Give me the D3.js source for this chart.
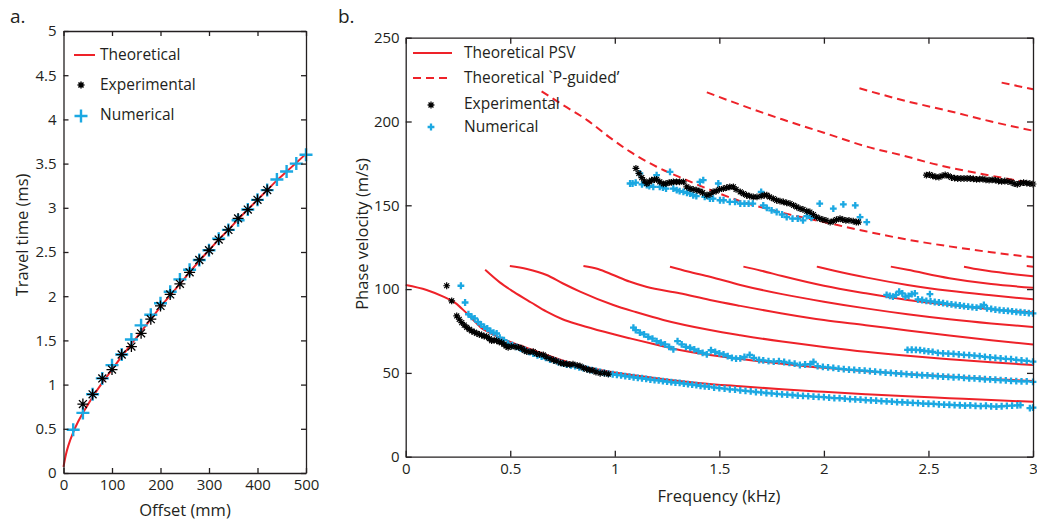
<!DOCTYPE html>
<html>
<head>
<meta charset="utf-8">
<script src="https://cdn.jsdelivr.net/npm/d3@7"></script>
<style>
body { margin: 0; background: #fff; }
svg { font-family: "Open Sans", sans-serif; }
</style>
</head>
<body>
<svg id="chart" width="1037" height="523"></svg>
<script>
// ---------- panel a: travel time vs offset ----------
const aTheory = [[0,0.07],[5,0.21],[10,0.31],[20,0.46],[30,0.58],[40,0.68],[50,0.77],[60,0.86],[80,1.02],
  [100,1.17],[120,1.32],[140,1.46],[160,1.6],[180,1.74],[200,1.88],[220,2.01],[240,2.14],[260,2.27],
  [280,2.4],[300,2.52],[320,2.64],[340,2.75],[360,2.87],[380,2.98],[400,3.09],[420,3.2],[440,3.31],
  [460,3.41],[480,3.51],[500,3.61]]
const aExp = [[40,0.78],[60,0.89],[80,1.07],[100,1.17],[120,1.34],[140,1.43],[160,1.58],[180,1.74],
  [200,1.89],[220,2.02],[240,2.14],[260,2.27],[280,2.41],[300,2.52],[320,2.64],[340,2.75],[360,2.88],
  [380,2.98],[400,3.09],[420,3.2]]
const aNum = [[20,0.49],[40,0.68],[60,0.89],[80,1.07],[100,1.22],[120,1.34],[140,1.51],[160,1.67],
  [180,1.79],[200,1.92],[220,2.05],[240,2.19],[260,2.3],[280,2.41],[300,2.52],[320,2.65],[340,2.75],
  [360,2.86],[380,2.98],[400,3.09],[420,3.2],[440,3.32],[460,3.41],[480,3.5],[500,3.6]]
const aXTicks = [0,100,200,300,400,500]
const aYTicks = [0,0.5,1,1.5,2,2.5,3,3.5,4,4.5,5]

// ---------- panel b: phase velocity vs frequency ----------
// theoretical PSV modes (kHz, m/s)
const psvModes = [
  [[0,102.5],[0.1,99.5],[0.18,95.5],[0.24,91.5],[0.28,87],[0.32,82],[0.36,77],[0.4,74],[0.45,71],[0.5,68.5],
   [0.6,64],[0.7,59.5],[0.8,55.5],[0.9,52.5],[1.0,50.2],[1.2,46.8],[1.4,44],[1.6,42],[1.8,40.2],[2.0,38.7],
   [2.2,37.3],[2.4,36],[2.6,34.9],[2.8,33.8],[3.0,32.8]],
  [[0.38,111.5],[0.45,104],[0.515,98.5],[0.6,92],[0.674,86.5],[0.75,82],[0.834,78.6],[0.95,74.5],[1.073,70.6],
   [1.2,66.8],[1.31,63.7],[1.455,60.7],[1.6,58.3],[1.8,55.5],[2.0,53],[2.2,51],[2.4,49.3],[2.6,47.8],
   [2.8,46.4],[3.0,45.2]],
  [[0.498,113.8],[0.58,112],[0.674,108.4],[0.75,103.5],[0.834,98.5],[0.993,90.5],[1.1,86.3],[1.232,81.6],
   [1.455,75.6],[1.6,72.5],[1.8,68.7],[2.0,65.5],[2.2,62.6],[2.4,60.2],[2.6,58.2],[2.8,56.3],[3.0,54.7]],
  [[0.85,113.8],[0.92,112],[0.993,108.4],[1.07,104.5],[1.15,101.4],[1.31,97.5],[1.455,93.5],[1.6,90],
   [1.8,85.5],[2.0,81.5],[2.2,78.5],[2.4,75.3],[2.6,72.3],[2.8,69.5],[3.0,67]],
  [[1.264,113.4],[1.35,110.5],[1.455,107.4],[1.6,102.5],[1.8,97],[2.0,92.5],[2.2,88.5],[2.4,85],[2.6,82],
   [2.8,79.5],[3.0,77.4]],
  [[1.615,113.4],[1.7,111],[1.8,107.8],[2.0,102],[2.2,97.5],[2.4,93.5],[2.6,90.5],[2.8,88],[3.0,86]],
  [[1.966,113.4],[2.05,111],[2.2,107],[2.4,102.5],[2.6,99],[2.8,96.3],[3.0,93.9]],
  [[2.32,113.4],[2.4,111.5],[2.6,106.5],[2.8,103],[3.0,100.8]],
  [[2.67,113.4],[2.75,111.5],[2.9,109],[3.0,107.6]],
  [[2.97,113.8],[3.0,113.4]]
]
// theoretical "P-guided" modes
const pGuided = [
  [[0.65,218],[0.75,210],[0.866,201],[0.97,191],[1.073,182],[1.2,173],[1.344,165],[1.47,158.5],[1.6,152.5],
   [1.82,145],[2.0,140],[2.2,134.5],[2.4,129.5],[2.6,125.5],[2.8,122],[3.0,119]],
  [[1.44,217.4],[1.6,210],[1.8,201.3],[2.0,193.3],[2.205,185],[2.4,179],[2.5,175.5],[2.68,170.5],
   [2.85,166.5],[3.0,163]],
  [[2.17,219.8],[2.4,212],[2.59,206.5],[2.8,200],[3.0,194.5]],
  [[2.85,223.2],[3.0,219.2]]
]
// experimental picks
const expLow = [[0.196,102],[0.22,93],[0.244,84],[0.256,82],[0.268,80],[0.28,78.5],[0.292,77.2],[0.304,76],
  [0.316,75],[0.328,74.3],[0.34,73.6],[0.352,73],[0.363,72.6],[0.375,72],[0.387,71.6],[0.4,70.5],[0.411,69.2],
  [0.423,69.5],[0.435,69.2],[0.447,68.5],[0.459,68],[0.47,67],[0.48,66],[0.49,65.3],[0.505,65.8],[0.523,65.6],
  [0.54,65.2],[0.555,64.7],[0.567,63.5],[0.579,62.7],[0.595,62.5],[0.61,62.7],[0.625,61.5],[0.64,61],
  [0.658,60.7],[0.672,59.5],[0.69,58.5],[0.706,57.7],[0.72,57],[0.74,56],[0.755,55.5],[0.77,55.3],
  [0.785,55],[0.8,55.2],[0.82,54.5],[0.834,54.1],[0.85,53],[0.865,52.2],[0.88,51.7],[0.895,51.5],
  [0.91,50.5],[0.93,49.8],[0.95,49.8],[0.969,49.3]]
const expHigh = [[1.101,172],[1.115,169],[1.129,166.5],[1.141,164.5],[1.153,163],[1.165,164],[1.176,165],
  [1.19,165.3],[1.2,165.5],[1.215,164],[1.232,162.8],[1.245,163],[1.26,163.5],[1.27,163.7],[1.28,164],
  [1.295,164],[1.31,164],[1.328,164],[1.344,161],[1.36,160],[1.375,159.5],[1.392,159],[1.407,158.5],
  [1.42,157.5],[1.44,156],[1.455,156.5],[1.47,158],[1.485,158.5],[1.5,159.5],[1.519,160],[1.535,160.5],
  [1.55,161],[1.567,161],[1.58,159.5],[1.6,158],[1.615,157],[1.63,156],[1.645,155.5],[1.662,155],[1.68,155],
  [1.7,155.5],[1.715,156],[1.727,156],[1.74,155],[1.758,154],[1.774,153],[1.79,152.5],[1.806,152],
  [1.822,151.5],[1.838,151],[1.855,150],[1.87,149],[1.886,148],[1.9,147.5],[1.918,146.5],[1.933,146],
  [1.95,144.5],[1.965,143],[1.98,142],[1.995,141.5],[2.01,141],[2.03,140],[2.045,140.5],[2.06,141.5],
  [2.077,142],[2.09,141.5],[2.105,141],[2.12,141],[2.14,140.5],[2.155,140],[2.165,140]]
const expTop = [[2.49,168],[2.505,168.3],[2.52,167.5],[2.535,167],[2.55,166.8],[2.565,167.5],[2.58,168.2],
  [2.595,167.5],[2.61,166.6],[2.625,166.2],[2.64,166],[2.655,166],[2.67,166],[2.685,166],[2.7,166],
  [2.715,165.8],[2.73,165.5],[2.745,165.6],[2.76,165.7],[2.775,165.2],[2.79,165],[2.805,165.2],[2.82,165],
  [2.835,164.5],[2.85,164.3],[2.865,164.5],[2.88,164.2],[2.895,163.8],[2.91,163],[2.925,162.5],[2.94,163.2],
  [2.955,163.5],[2.97,163.2],[2.985,163],[3.0,162.7]]
// numerical picks
const numA = [[0.264,102],[0.284,92],[0.3,85],[0.315,83.5],[0.33,82.5],[0.345,80.5],[0.36,79],[0.375,77.5],
  [0.39,76.5],[0.405,75],[0.42,74],[0.435,73.5],[0.45,71],[0.47,69.5],[0.49,67.5],[0.51,66.5],[0.53,65.5],
  [0.55,64.5],[0.57,63.5],[0.59,62.5],[0.61,61.5],[0.63,60.5],[0.65,59.8],[0.67,59],[0.69,58],[0.71,57.3],
  [0.73,56.5],[0.75,55.8],[0.77,55],[0.79,54.5],[0.81,54],[0.83,53.3],[0.85,52.8],[0.87,52.2],[0.89,51.7],
  [0.91,51.2],[0.93,50.6],[0.95,50],[0.97,49.6],[0.99,49.2],[1.01,48.8],[1.03,48.5],[1.05,48.1],[1.07,47.8],
  [1.09,47.4],[1.11,47],[1.13,46.8],[1.15,46.4],[1.17,46],[1.19,45.7],[1.21,45.5],[1.23,45.1],[1.25,44.8],
  [1.27,44.5],[1.29,44.2],[1.31,44],[1.33,43.6],[1.35,43.3],[1.37,43],[1.39,42.7],[1.41,42.3],[1.43,42],
  [1.45,41.8],[1.475,41.3],[1.5,40.9],[1.525,40.6],[1.55,40.2],[1.575,40],[1.6,39.6],[1.625,39.3],[1.65,39],
  [1.675,38.6],[1.7,38.4],[1.725,38],[1.75,37.8],[1.775,37.5],[1.8,37.2],[1.825,37],[1.85,36.8],[1.875,36.5],
  [1.9,36.3],[1.925,36.1],[1.95,35.9],[1.975,35.7],[2.0,35.5],[2.025,35.2],[2.05,35],[2.075,34.9],[2.1,34.6],
  [2.125,34.4],[2.15,34.2],[2.175,34.1],[2.2,33.8],[2.225,33.6],[2.25,33.5],[2.275,33.2],[2.3,33],[2.325,32.9],
  [2.35,32.6],[2.375,32.5],[2.4,32.3],[2.425,32.1],[2.45,32],[2.475,31.7],[2.5,31.6],[2.525,31.5],[2.55,31.2],
  [2.575,31.1],[2.6,31],[2.625,30.8],[2.65,30.7],[2.675,30.5],[2.7,30.6],[2.725,30.3],[2.75,30.2],[2.775,30.4],
  [2.8,30],[2.825,29.9],[2.85,30.1],[2.875,30.3],[2.9,30.5],[2.925,30.6],[2.94,30.8],[2.985,29],[3.0,29.3]]
const numB = [[1.089,77],[1.1,75.5],[1.12,74],[1.14,73],[1.16,71.5],[1.18,70.5],[1.2,69],[1.22,68],[1.24,67],
  [1.26,65.5],[1.28,64],[1.3,69],[1.32,67],[1.34,65.5],[1.36,65],[1.38,64],[1.4,63],[1.42,62],[1.44,61],
  [1.46,63.5],[1.48,62.5],[1.5,61.7],[1.52,61],[1.54,60],[1.56,59],[1.58,58.5],[1.6,58.7],[1.62,59.5],
  [1.645,60.7],[1.665,59],[1.69,57.7],[1.71,57.5],[1.735,57],[1.76,56.7],[1.785,57],[1.81,56.5],[1.835,56],
  [1.86,55.5],[1.885,54.7],[1.91,55],[1.935,55.2],[1.95,56.5],[1.97,54],[1.995,53.6],[2.02,53.3],[2.045,53],
  [2.07,52.6],[2.095,52.3],[2.12,52],[2.145,51.8],[2.17,51.5],[2.195,51.3],[2.22,51],[2.245,50.8],[2.27,50.5],
  [2.295,50.2],[2.32,50],[2.345,49.7],[2.37,49.5],[2.395,49.3],[2.42,49],[2.445,48.8],[2.47,48.6],[2.495,48.5],
  [2.52,48.2],[2.545,48],[2.57,47.8],[2.595,47.6],[2.62,47.4],[2.645,47.5],[2.67,47],[2.695,46.8],[2.72,46.7],
  [2.745,46.5],[2.77,46.2],[2.795,46.1],[2.82,45.9],[2.845,45.7],[2.87,45.5],[2.895,45.3],[2.92,45.1],
  [2.945,45],[2.97,44.9],[3.0,44.7]]
const numC = [[2.4,63.7],[2.42,63.8],[2.44,63.7],[2.46,63.6],[2.48,63.2],[2.5,62.8],[2.52,62.5],[2.545,62],
  [2.57,61.7],[2.595,61.5],[2.62,61.3],[2.645,61],[2.67,60.8],[2.695,60.6],[2.72,60.3],[2.745,60],[2.77,59.6],
  [2.795,59.3],[2.82,59],[2.845,58.7],[2.87,58.4],[2.895,58.2],[2.92,57.8],[2.945,57.5],[2.97,57.2],[3.0,56.7]]
const numD = [[2.3,96.5],[2.315,96],[2.33,95.5],[2.345,96.5],[2.36,98.5],[2.375,97.5],[2.39,95.5],[2.405,96],
  [2.42,97],[2.435,97.5],[2.45,93.8],[2.47,93.5],[2.49,93],[2.507,97],[2.51,92.7],[2.53,92.3],[2.55,92],
  [2.57,91.6],[2.59,91.2],[2.61,90.9],[2.63,90.5],[2.65,90.2],[2.67,89.8],[2.69,89.5],[2.71,89.3],[2.73,89],
  [2.75,89.5],[2.765,90.5],[2.78,88.5],[2.8,88.2],[2.82,87.8],[2.84,87.5],[2.86,87.2],[2.88,87],[2.9,86.7],
  [2.92,86.4],[2.94,86.2],[2.96,86],[2.98,85.7],[3.0,85.5]]
const numE = [[1.073,163],[1.085,163],[1.1,163.5],[1.12,169],[1.13,162.5],[1.153,162],[1.165,161.5],[1.184,161],
  [1.2,168],[1.215,161],[1.23,160.5],[1.245,160],[1.264,170],[1.28,160],[1.296,159],[1.31,158.5],[1.328,158],
  [1.345,157.5],[1.36,157],[1.375,156],[1.39,155.5],[1.407,164],[1.423,165],[1.43,155],[1.455,154],[1.47,154],
  [1.495,163],[1.503,153],[1.52,153],[1.55,152],[1.575,152],[1.6,151],[1.62,151],[1.64,151],[1.66,151],
  [1.7,158],[1.71,150],[1.727,148.5],[1.75,147],[1.774,146],[1.8,144.5],[1.822,143],[1.85,142],[1.875,142],
  [1.9,141],[1.918,143.5],[1.94,142.5],[1.98,151],[2.045,148],[2.093,150.5],[2.15,150],[2.173,143],[2.205,140]]
const bXTicks = [0,0.5,1,1.5,2,2.5,3]
const bYTicks = [0,50,100,150,200,250]

// ---------- drawing ----------
const svg = d3.select("#chart")
const red = "#ee2229", blue = "#1ba8e2", ink = "#231f20"
const fmt = d3.format("~g")

function starPath(r) {
  let d = r * 0.72
  return `M${-r},0H${r}M0,${-r}V${r}M${-d},${-d}L${d},${d}M${-d},${d}L${d},${-d}`
}
function plusPath(r) {
  return `M${-r},0H${r}M0,${-r}V${r}`
}

function drawFrame(g, x, y, xTicks, yTicks, tick, padX, padY) {
  let x0 = x.range()[0], x1 = x.range()[1], y0 = y.range()[0], y1 = y.range()[1]
  g.append("g").attr("transform", "translate(0," + y0 + ")")
    .call(d3.axisBottom(x).tickValues(xTicks).tickFormat(fmt).tickSizeInner(-tick).tickSizeOuter(0).tickPadding(padX))
  g.append("g").attr("transform", "translate(0," + y1 + ")")
    .call(d3.axisTop(x).tickValues(xTicks).tickSizeInner(-tick).tickSizeOuter(0).tickFormat(""))
  g.append("g").attr("transform", "translate(" + x0 + ",0)")
    .call(d3.axisLeft(y).tickValues(yTicks).tickFormat(fmt).tickSizeInner(-tick).tickSizeOuter(0).tickPadding(padY))
  g.append("g").attr("transform", "translate(" + x1 + ",0)")
    .call(d3.axisRight(y).tickValues(yTicks).tickSizeInner(-tick).tickSizeOuter(0).tickFormat(""))
  g.selectAll(".domain, .tick line").attr("stroke", ink).attr("stroke-width", 1.3)
  g.selectAll(".tick text").attr("fill", ink).style("font-size", "15px")
    .style("font-family", "'Open Sans', sans-serif")
}

// panel a
const ax = d3.scaleLinear().domain([0, 500]).range([63.5, 306])
const ay = d3.scaleLinear().domain([0, 5]).range([473, 31])
const ga = svg.append("g")

ga.append("path").datum(aTheory)
  .attr("fill", "none").attr("stroke", red).attr("stroke-width", 2)
  .attr("d", d3.line().x(d => ax(d[0])).y(d => ay(d[1])).curve(d3.curveMonotoneX))
ga.selectAll(".anum").data(aNum).enter().append("path")
  .attr("d", plusPath(6.5)).attr("transform", d => "translate(" + ax(d[0]) + "," + ay(d[1]) + ")")
  .attr("stroke", blue).attr("stroke-width", 2.4).attr("fill", "none")
ga.selectAll(".aexp").data(aExp).enter().append("path")
  .attr("d", starPath(5.5)).attr("transform", d => "translate(" + ax(d[0]) + "," + ay(d[1]) + ")")
  .attr("stroke", "#000").attr("stroke-width", 1.3).attr("fill", "none")
drawFrame(ga, ax, ay, aXTicks, aYTicks, 5, 6, 7)

// legend a
ga.append("line").attr("x1", 74).attr("x2", 95).attr("y1", 55).attr("y2", 55)
  .attr("stroke", red).attr("stroke-width", 2)
ga.append("path").attr("d", starPath(3.5)).attr("transform", "translate(81,85)")
  .attr("stroke", "#000").attr("stroke-width", 1.5).attr("fill", "none")
ga.append("path").attr("d", plusPath(6.5)).attr("transform", "translate(81,116)")
  .attr("stroke", blue).attr("stroke-width", 2.4).attr("fill", "none")
ga.selectAll(".lega").data(["Theoretical", "Experimental", "Numerical"]).enter().append("text")
  .attr("x", 100).attr("y", (d, i) => 55 + i * 30).attr("dy", "0.35em")
  .attr("fill", ink).style("font-size", "15.5px").text(d => d)

ga.append("text").attr("x", 185).attr("y", 510).attr("dy", "0.35em").attr("text-anchor", "middle")
  .attr("fill", ink).style("font-size", "16.5px").text("Offset (mm)")
ga.append("text").attr("transform", "translate(22,235) rotate(-90)").attr("dy", "0.35em")
  .attr("text-anchor", "middle").attr("fill", ink).style("font-size", "16.5px").text("Travel time (ms)")
ga.append("text").attr("x", 10).attr("y", 16).attr("dy", "0.35em").attr("fill", ink)
  .style("font-size", "19px").text("a.")

// panel b
const bx = d3.scaleLinear().domain([0, 3]).range([405.7, 1033])
const by = d3.scaleLinear().domain([0, 250]).range([456.7, 37.7])
const gb = svg.append("g")
const bLine = d3.line().x(d => bx(d[0])).y(d => by(d[1])).curve(d3.curveMonotoneX)

gb.selectAll(".psv").data(psvModes).enter().append("path")
  .attr("fill", "none").attr("stroke", red).attr("stroke-width", 2).attr("d", bLine)
gb.selectAll(".pg").data(pGuided).enter().append("path")
  .attr("fill", "none").attr("stroke", red).attr("stroke-width", 2)
  .attr("stroke-dasharray", "8,5").attr("d", bLine)

const numAll = [numA, numB, numC, numD, numE]
numAll.forEach(function(set) {
  gb.append("g").selectAll("path").data(set).enter().append("path")
    .attr("d", plusPath(3.4)).attr("transform", d => "translate(" + bx(d[0]) + "," + by(d[1]) + ")")
    .attr("stroke", blue).attr("stroke-width", 2.3).attr("fill", "none")
})
const expAll = [expLow, expHigh, expTop]
expAll.forEach(function(set) {
  gb.append("g").selectAll("path").data(set).enter().append("path")
    .attr("d", starPath(3.4)).attr("transform", d => "translate(" + bx(d[0]) + "," + by(d[1]) + ")")
    .attr("stroke", "#000").attr("stroke-width", 1.2).attr("fill", "none")
})
drawFrame(gb, bx, by, bXTicks, bYTicks, 6, 7, 6)

// legend b
gb.append("line").attr("x1", 413).attr("x2", 452).attr("y1", 53).attr("y2", 53)
  .attr("stroke", red).attr("stroke-width", 2)
gb.append("line").attr("x1", 413).attr("x2", 452).attr("y1", 78).attr("y2", 78)
  .attr("stroke", red).attr("stroke-width", 2).attr("stroke-dasharray", "8,5")
gb.append("path").attr("d", starPath(3.4)).attr("transform", "translate(431,105)")
  .attr("stroke", "#000").attr("stroke-width", 1.3).attr("fill", "none")
gb.append("path").attr("d", plusPath(3.4)).attr("transform", "translate(431,127)")
  .attr("stroke", blue).attr("stroke-width", 2.3).attr("fill", "none")
gb.selectAll(".legb").data(["Theoretical PSV", "Theoretical `P-guided\u2019", "Experimental", "Numerical"])
  .enter().append("text")
  .attr("x", 464).attr("y", (d, i) => [53, 78, 104, 127][i]).attr("dy", "0.35em")
  .attr("fill", ink).style("font-size", "15.5px").text(d => d)

gb.append("text").attr("x", 719).attr("y", 496).attr("dy", "0.35em").attr("text-anchor", "middle")
  .attr("fill", ink).style("font-size", "16.5px").text("Frequency (kHz)")
gb.append("text").attr("transform", "translate(362,234) rotate(-90)").attr("dy", "0.35em")
  .attr("text-anchor", "middle").attr("fill", ink).style("font-size", "16.5px").text("Phase velocity (m/s)")
gb.append("text").attr("x", 338).attr("y", 16).attr("dy", "0.35em").attr("fill", ink)
  .style("font-size", "19px").text("b.")
</script>
</body>
</html>
